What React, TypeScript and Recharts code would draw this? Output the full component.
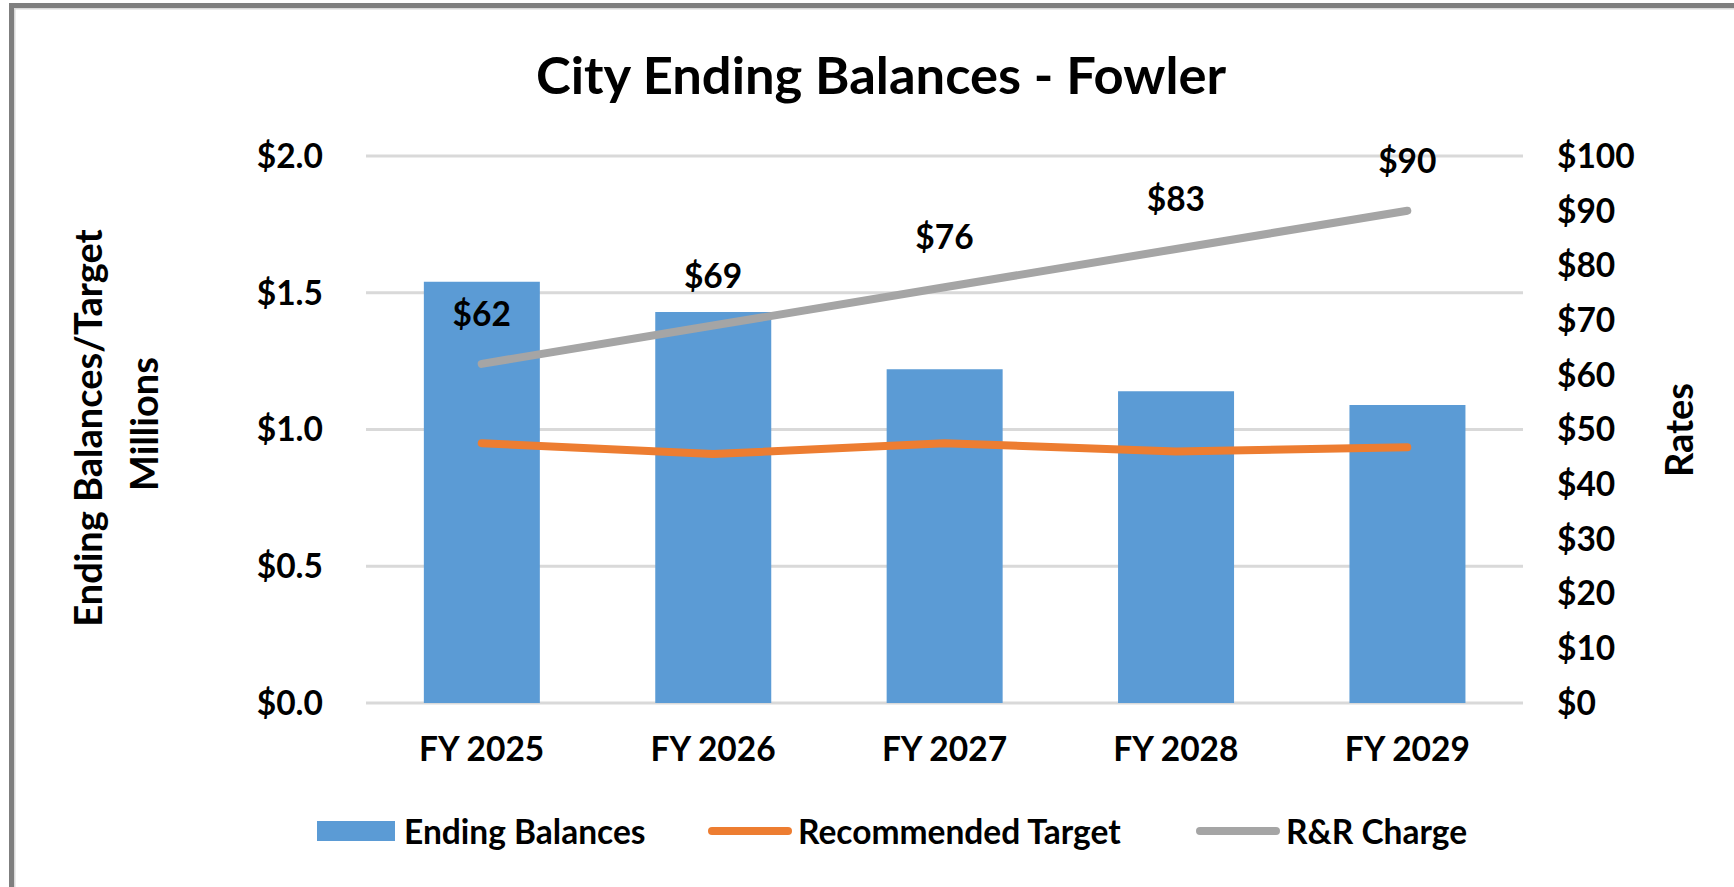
import React from 'react';
import {
  ComposedChart,
  Bar,
  Line,
  XAxis,
  YAxis,
  CartesianGrid,
  LabelList,
  Legend,
} from 'recharts';

const categories = ['FY 2025', 'FY 2026', 'FY 2027', 'FY 2028', 'FY 2029'];
const endingBalances = [1.54, 1.43, 1.22, 1.14, 1.09];
const recommendedTarget = [0.95, 0.91, 0.95, 0.92, 0.935];
const rrCharge = [62, 69, 76, 83, 90];
const leftTicks = [0, 0.5, 1.0, 1.5, 2.0];
const rightTicks = [0, 10, 20, 30, 40, 50, 60, 70, 80, 90, 100];

const seriesNames = ['Ending Balances', 'Recommended Target', 'R&R Charge'];
const seriesColors = ['#5B9BD5', '#ED7D31', '#A5A5A5'];

const data = categories.map((name, i) => ({
  name,
  balance: endingBalances[i],
  target: recommendedTarget[i],
  charge: rrCharge[i],
}));

const FONT = "Lato, 'Open Sans', 'DejaVu Sans', sans-serif";
const FS = 33.5;
const tickStyle = { fill: '#000', fontSize: FS, fontWeight: 700, fontFamily: FONT };

const legendLefts = [317, 707, 1195];

const renderLegend = () => (
  <div style={{ position: 'relative', width: 1734, height: 40, fontFamily: FONT }}>
    {seriesNames.map((label, i) => (
      <div
        key={label}
        style={{
          position: 'absolute',
          left: legendLefts[i],
          top: 0,
          height: 40,
          display: 'flex',
          alignItems: 'center',
          whiteSpace: 'nowrap',
        }}
      >
        {i === 0 ? (
          <div style={{ width: 78, height: 20, background: seriesColors[i], marginRight: 9 }} />
        ) : (
          <svg width={86} height={12} style={{ marginRight: 5 }}>
            <line x1={5} y1={6} x2={81} y2={6} stroke={seriesColors[i]} strokeWidth={8} strokeLinecap="round" />
          </svg>
        )}
        <span style={{ fontSize: FS, fontWeight: 700, color: '#000', lineHeight: '40px' }}>{label}</span>
      </div>
    ))}
  </div>
);

export default function App() {
  return (
    <div
      style={{
        position: 'absolute',
        left: 0,
        top: 0,
        width: 1734,
        height: 887,
        overflow: 'hidden',
        background: '#fff',
      }}
    >
      <div
        style={{
          position: 'absolute',
          left: 9,
          top: 3,
          width: 1900,
          height: 1000,
          border: '5px solid #7F7F7F',
          boxShadow: 'inset 0 0 0 1.5px #D9D9D9',
        }}
      />
      <div style={{ position: 'absolute', left: 0, top: 0 }}>
        <ComposedChart
          width={1734}
          height={887}
          data={data}
          margin={{ top: 156, right: 91, left: 166, bottom: 124 }}
          barCategoryGap="25%"
        >
          <CartesianGrid vertical={false} stroke="#D9D9D9" strokeWidth={3} />
          <XAxis
            dataKey="name"
            tickLine={false}
            axisLine={false}
            tickMargin={28}
            height={60}
            tick={tickStyle}
            interval={0}
          />
          <YAxis
            width={200}
            domain={[0, 2]}
            ticks={leftTicks}
            tickFormatter={(v: number) => `$${v.toFixed(1)}`}
            tickLine={false}
            axisLine={false}
            tickMargin={37}
            tick={tickStyle}
            interval={0}
          />
          <YAxis
            yAxisId="right"
            orientation="right"
            width={120}
            domain={[0, 100]}
            ticks={rightTicks}
            tickFormatter={(v: number) => `$${v}`}
            tickLine={false}
            axisLine={false}
            tickMargin={28}
            tick={{ ...tickStyle, textAnchor: 'start' }}
            interval={0}
          />
          <Bar dataKey="balance" name={seriesNames[0]} fill={seriesColors[0]} isAnimationActive={false} />
          <Line
            type="linear"
            dataKey="target"
            name={seriesNames[1]}
            stroke={seriesColors[1]}
            strokeWidth={8}
            strokeLinecap="round"
            strokeLinejoin="round"
            dot={false}
            activeDot={false}
            isAnimationActive={false}
          />
          <Line
            type="linear"
            yAxisId="right"
            dataKey="charge"
            name={seriesNames[2]}
            stroke={seriesColors[2]}
            strokeWidth={8}
            strokeLinecap="round"
            strokeLinejoin="round"
            dot={false}
            activeDot={false}
            isAnimationActive={false}
          >
            <LabelList
              dataKey="charge"
              position="top"
              offset={38}
              formatter={(v: any) => `$${v}`}
              fill="#000"
              fontSize={FS}
              fontWeight={700}
              fontFamily={FONT}
            />
          </Line>
          <Legend
            verticalAlign="middle"
            align="center"
            layout="horizontal"
            wrapperStyle={{ top: 811, left: 0, width: 1734, height: 40 }}
            content={renderLegend}
          />
        </ComposedChart>
      </div>
      <svg
        width={1734}
        height={887}
        style={{ position: 'absolute', left: 0, top: 0, pointerEvents: 'none' }}
        fontFamily={FONT}
        fontWeight={700}
        fill="#000"
      >
        <text x={881} y={94} textAnchor="middle" fontSize={52.5}>
          City Ending Balances - Fowler
        </text>
        <text x={102} y={428} textAnchor="middle" fontSize={38} transform="rotate(-90 102 428)">
          Ending Balances/Target
        </text>
        <text x={158} y={424} textAnchor="middle" fontSize={38} transform="rotate(-90 158 424)">
          Millions
        </text>
        <text x={1693} y={430} textAnchor="middle" fontSize={38} transform="rotate(-90 1693 430)">
          Rates
        </text>
      </svg>
    </div>
  );
}
